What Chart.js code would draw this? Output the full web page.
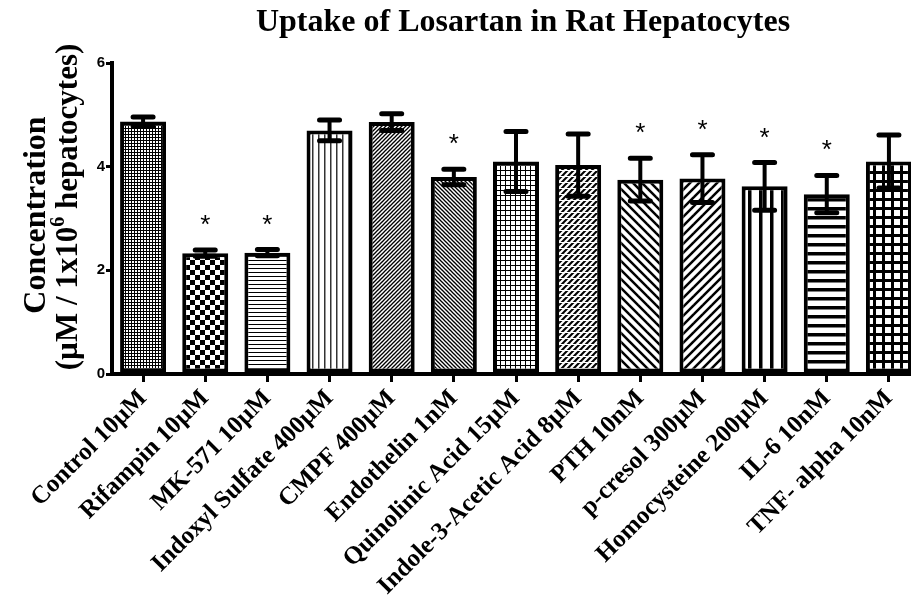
<!DOCTYPE html>
<html>
<head>
<meta charset="utf-8">
<script src="https://cdn.jsdelivr.net/npm/chart.js@4.4.1/dist/chart.umd.min.js"></script>
<style>
  html, body { margin: 0; padding: 0; background: #fff; overflow: hidden; }
  #wrap { width: 911px; height: 599px; overflow: hidden; }
</style>
</head>
<body>
<div id="wrap"><canvas id="c" width="920" height="599"></canvas></div>
<script>
// uptake data (mean and SEM, uM / 1x10^6 hepatocytes)
const categories = ['Control 10\u00b5M', 'Rifampin 10\u00b5M', 'MK-571 10\u00b5M', 'Indoxyl Sulfate 400\u00b5M',
    'CMPF 400\u00b5M', 'Endothelin 1nM', 'Quinolinic Acid 15\u00b5M', 'Indole-3-Acetic Acid 8\u00b5M',
    'PTH 10nM', 'p-cresol 300\u00b5M', 'Homocysteine 200\u00b5M', 'IL-6 10nM', 'TNF- alpha 10nM'];
const means = [4.87, 2.33, 2.34, 4.70, 4.86, 3.80, 4.10, 4.03, 3.75, 3.77, 3.62, 3.47, 4.10];
const sems = [0.09, 0.06, 0.06, 0.20, 0.16, 0.15, 0.58, 0.60, 0.41, 0.46, 0.46, 0.36, 0.51];
const marks = ['', '*', '*', '', '', '*', '', '', '*', '*', '*', '*', ''];
const yTicks = [0, 2, 4, 6];

const canvas = document.getElementById('c');
const ctx = canvas.getContext('2d');

function makePattern(w, h, draw) {
    const c = document.createElement('canvas');
    c.width = w;
    c.height = h;
    const g = c.getContext('2d');
    g.fillStyle = '#fff';
    g.fillRect(0, 0, w, h);
    g.fillStyle = '#000';
    g.strokeStyle = '#000';
    draw(g, w, h);
    return ctx.createPattern(c, 'repeat');
}

function diag(g, w, h, lw, back) {
    g.lineWidth = lw;
    for (let k = -1; k <= 1; k++) {
        g.beginPath();
        if (back) {
            g.moveTo(k * w - 1, -1);
            g.lineTo(k * w + w + 1, h + 1);
        } else {
            g.moveTo(k * w - 1, h + 1);
            g.lineTo(k * w + w + 1, -1);
        }
        g.stroke();
    }
}

const patterns = [
    makePattern(3, 3, g => { g.fillRect(0, 0, 3, 3); g.fillStyle = '#fff'; g.fillRect(0, 0, 2, 2); }),
    makePattern(10, 10, g => { g.fillRect(0, 0, 5, 5); g.fillRect(5, 5, 5, 5); }),
    makePattern(4, 4, g => { g.fillRect(0, 0, 4, 1); }),
    makePattern(6, 6, g => { g.fillStyle = '#333'; g.fillRect(0, 0, 1.5, 6); }),
    makePattern(4, 4, g => diag(g, 4, 4, 1.3, false)),
    makePattern(4, 4, g => diag(g, 4, 4, 1.3, true)),
    makePattern(5, 5, g => { g.fillRect(0, 0, 5, 1); g.fillRect(0, 0, 1, 5); }),
    makePattern(6, 6, g => { diag(g, 6, 6, 2, false); g.fillStyle = '#fff'; g.fillRect(0, 2, 6, 1); }),
    makePattern(9, 9, g => diag(g, 9, 9, 2.5, true)),
    makePattern(9, 9, g => diag(g, 9, 9, 2.5, false)),
    makePattern(11, 11, g => { g.fillRect(0, 0, 3.5, 11); }),
    makePattern(9, 9, g => { g.fillRect(0, 0, 9, 3.5); }),
    makePattern(9, 9, g => { g.fillRect(0, 0, 9, 3); g.fillRect(0, 0, 3, 9); })
];

// error bars and significance stars
const errorBars = {
    id: 'errorBars',
    afterDatasetsDraw(chart) {
        const c = chart.ctx;
        const y = chart.scales.y;
        const meta = chart.getDatasetMeta(0);
        c.save();
        c.strokeStyle = '#000';
        c.fillStyle = '#000';
        meta.data.forEach((bar, i) => {
            const top = y.getPixelForValue(means[i] + sems[i]);
            const bot = y.getPixelForValue(means[i] - sems[i]);
            c.lineWidth = 4;
            c.lineCap = 'butt';
            c.beginPath();
            c.moveTo(bar.x, top);
            c.lineTo(bar.x, bot);
            c.stroke();
            c.lineWidth = 5;
            c.lineCap = 'round';
            c.beginPath();
            c.moveTo(bar.x - 10, top);
            c.lineTo(bar.x + 10, top);
            c.moveTo(bar.x - 10, bot);
            c.lineTo(bar.x + 10, bot);
            c.stroke();
            if (marks[i]) {
                c.font = '26px "Liberation Sans", Arial, sans-serif';
                c.textAlign = 'center';
                c.textBaseline = 'alphabetic';
                c.fillText(marks[i], bar.x, top - 17);
            }
        });
        c.restore();
    }
};

// main title and the two-line y axis title with superscript
const titles = {
    id: 'titles',
    afterDraw(chart) {
        const c = chart.ctx;
        c.save();
        c.fillStyle = '#000';
        c.font = 'bold 32px "Liberation Serif", "Times New Roman", serif';
        c.textAlign = 'center';
        c.textBaseline = 'alphabetic';
        c.fillText('Uptake of Losartan in Rat Hepatocytes', 523, 31);

        c.save();
        c.translate(45, 215);
        c.rotate(-Math.PI / 2);
        c.font = 'bold 32px "Liberation Serif", "Times New Roman", serif';
        c.fillText('Concentration', 0, 0);
        c.restore();

        c.save();
        c.translate(77, 207);
        c.rotate(-Math.PI / 2);
        const big = 'bold 31px "Liberation Serif", "Times New Roman", serif';
        const small = 'bold 20px "Liberation Serif", "Times New Roman", serif';
        const a = '(\u00b5M / 1x10', s = '6', b = ' hepatocytes)';
        c.font = big;
        const wa = c.measureText(a).width, wb = c.measureText(b).width;
        c.font = small;
        const ws = c.measureText(s).width;
        let x = -(wa + ws + wb) / 2;
        c.textAlign = 'left';
        c.font = big;
        c.fillText(a, x, 0);
        x += wa;
        c.font = small;
        c.fillText(s, x, -13);
        x += ws;
        c.font = big;
        c.fillText(b, x, 0);
        c.restore();
        c.restore();
    }
};

new Chart(ctx, {
    type: 'bar',
    data: {
        labels: categories,
        datasets: [{
            data: means,
            backgroundColor: patterns,
            borderColor: '#000',
            borderWidth: 4,
            borderSkipped: false,
            barPercentage: 0.74,
            categoryPercentage: 1
        }]
    },
    options: {
        responsive: false,
        animation: false,
        devicePixelRatio: 1,
        layout: { padding: { top: 63, left: 0, right: 0, bottom: 0 } },
        plugins: { legend: { display: false }, tooltip: { enabled: false }, title: { display: false } },
        scales: {
            x: {
                afterFit: s => { s.height = 225; },
                grid: { offset: false, drawOnChartArea: false, tickLength: 8, lineWidth: 3, color: '#000' },
                border: { color: '#000', width: 4 },
                ticks: {
                    minRotation: 45, maxRotation: 45, padding: 2, color: '#000', autoSkip: false,
                    font: { family: '"Liberation Serif", "Times New Roman", serif', weight: 'bold', size: 25 }
                }
            },
            y: {
                min: 0, max: 6,
                afterFit: s => { s.width = 112; },
                afterBuildTicks: s => { s.ticks = yTicks.map(v => ({ value: v })); },
                grid: { drawOnChartArea: false, tickLength: 6, lineWidth: 3, color: '#000' },
                border: { color: '#000', width: 4 },
                ticks: {
                    padding: 1, color: '#000',
                    font: { family: '"Liberation Sans", Arial, sans-serif', weight: 'bold', size: 15 }
                }
            }
        }
    },
    plugins: [errorBars, titles]
});
</script>
</body>
</html>
